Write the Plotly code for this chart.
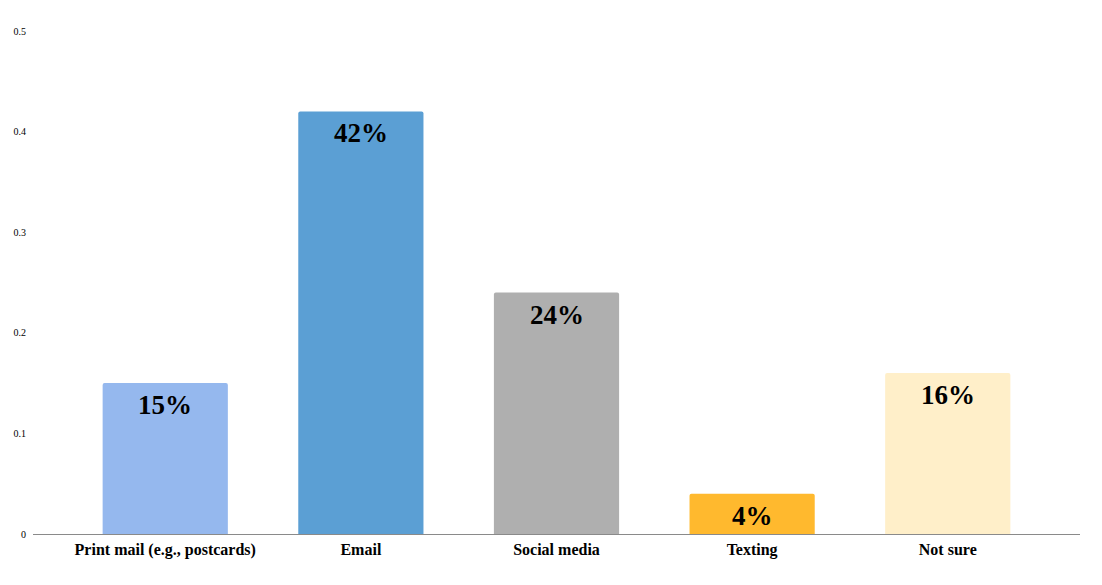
import plotly.graph_objects as go

categories = ["Print mail (e.g., postcards)", "Email", "Social media", "Texting", "Not sure"]
values = [0.15, 0.42, 0.24, 0.04, 0.16]
labels = ["15%", "42%", "24%", "4%", "16%"]
colors = ["#95B8EE", "#5B9FD4", "#AFAFAF", "#FFB92E", "#FFEFC9"]
y_ticks = [0, 0.1, 0.2, 0.3, 0.4, 0.5]
y_tick_text = ["0", "0.1", "0.2", "0.3", "0.4", "0.5"]

FONT = "Liberation Serif, Times New Roman, serif"

fig = go.Figure(go.Bar(
    x=categories, y=values, marker_color=colors, width=0.64,
    marker_line_width=0, hoverinfo="skip",
))
fig.update_traces(marker_cornerradius=2)

for c, v, t in zip(categories, values, labels):
    fig.add_annotation(x=c, y=v, text=f"<b>{t}</b>", showarrow=False,
                       yanchor="top", yshift=-5,
                       font=dict(family=FONT, size=27, color="#000000"))

fig.update_layout(
    width=1102, height=585,
    margin=dict(l=25, r=30, t=23, b=59),
    plot_bgcolor="white", paper_bgcolor="white",
    showlegend=False,
    font=dict(family=FONT, color="#000000"),
    xaxis=dict(
        range=[-0.676, 4.676], showgrid=False, zeroline=False,
        showline=True, linecolor="#8a8a8a", linewidth=1,
        ticks="", tickfont=dict(family=FONT, size=16, color="#000000"),
        tickvals=categories, ticktext=[f"<b>{c}</b>" for c in categories],
        ticklabelstandoff=1, automargin=False,
    ),
    yaxis=dict(
        range=[0, 0.5], showgrid=False, zeroline=False, showline=False,
        tickvals=y_ticks, ticktext=y_tick_text, ticks="",
        tickfont=dict(family=FONT, size=10, color="#000000"),
        ticklabelstandoff=6, automargin=False,
    ),
)

fig.write_html("out.html")
